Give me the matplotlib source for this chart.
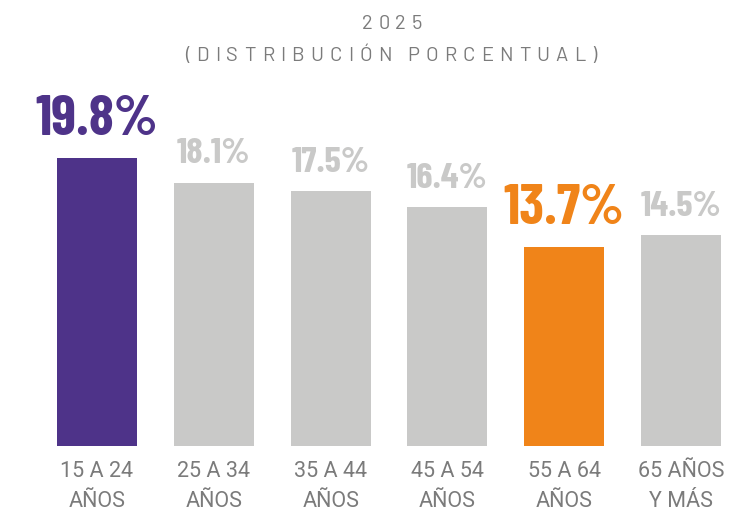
import matplotlib
matplotlib.use('Agg')
import matplotlib.pyplot as plt

# ------------------------------------------------------------
# Data
# ------------------------------------------------------------
categories = ['15 A 24\nAÑOS', '25 A 34\nAÑOS', '35 A 44\nAÑOS',
              '45 A 54\nAÑOS', '55 A 64\nAÑOS', '65 AÑOS\nY MÁS']
values = [19.8, 18.1, 17.5, 16.4, 13.7, 14.5]
title_year = '2025'
title_sub = '(DISTRIBUCIÓN PORCENTUAL)'

# ------------------------------------------------------------
# Styles
# ------------------------------------------------------------
PURPLE = '#4e3389'
ORANGE = '#f08419'
GRAY_BAR = '#c9c9c8'
GRAY_TEXT = '#7b7b7b'
bar_colors = [PURPLE, GRAY_BAR, GRAY_BAR, GRAY_BAR, ORANGE, GRAY_BAR]
label_colors = [PURPLE, GRAY_BAR, GRAY_BAR, GRAY_BAR, ORANGE, GRAY_BAR]
label_sizes = [41, 26.5, 26.5, 26.5, 41, 26.5]

W, H = 741, 512
fig = plt.figure(figsize=(W / 100, H / 100), dpi=100)
fig.patch.set_facecolor('white')

# axes placed in pixel terms: baseline at y=446, bar centres 97..681
left_px, right_px = 38.6, 739.4
bottom_px = 446
ax = fig.add_axes([left_px / W, (H - bottom_px) / H,
                   (right_px - left_px) / W, 363.6 / H])
ax.set_xlim(-0.5, len(values) - 0.5)
ax.set_ylim(0, 25)

x = list(range(len(values)))
ax.bar(x, values, width=0.685, color=bar_colors, zorder=2)

for xi, v, c, s in zip(x, values, label_colors, label_sizes):
    off = 16.5 if s > 30 else 14
    ax.annotate(f'{v:.1f}%', (xi, v), xytext=(0, off), textcoords='offset points',
                ha='center', va='baseline', color=c, fontsize=s,
                fontweight='bold', family=['Barlow Condensed', 'DejaVu Sans'],
                annotation_clip=False)

ax.set_xticks(x)
ax.set_xticklabels(categories, fontsize=15.5, color=GRAY_TEXT,
                   family=['Roboto', 'DejaVu Sans'],
                   fontweight='normal', linespacing=1.55)
ax.tick_params(axis='x', length=0, pad=11)
ax.set_yticks([])
for sp in ax.spines.values():
    sp.set_visible(False)


def spaced_text(s, cx, cy, track, **kw):
    """Draw letter-spaced text centred at pixel (cx, cy) from top-left."""
    renderer = fig.canvas.get_renderer()

    def width(txt):
        t = fig.text(0, 0, txt, **kw)
        w = t.get_window_extent(renderer).width
        t.remove()
        return w

    sp_w = width('x x') - width('xx')
    widths = [sp_w if ch == ' ' else width(ch) for ch in s]
    total = sum(widths) + track * (len(s) - 1)
    xpos = cx - total / 2
    for ch, w in zip(s, widths):
        if ch != ' ':
            fig.text(xpos / W, 1 - cy / H, ch, ha='left', va='baseline', **kw)
        xpos += w + track


title_kw = dict(fontsize=14.5, color=GRAY_TEXT, family=['Barlow', 'DejaVu Sans'],
                fontweight='normal')
spaced_text(title_year, 392, 29, 5.5, **title_kw)
spaced_text(title_sub, 391, 61, 6.1, **title_kw)

fig.savefig('out.png', dpi=100)
